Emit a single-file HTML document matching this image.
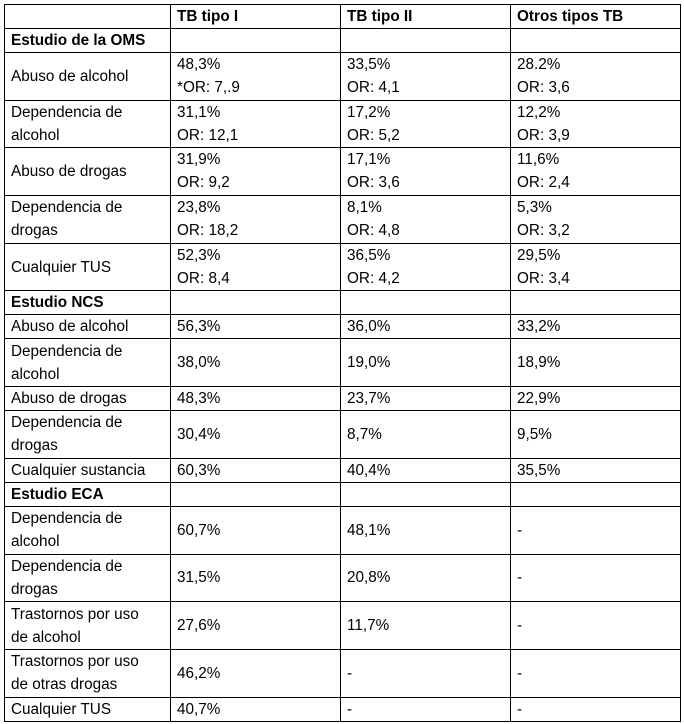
<!DOCTYPE html>
<html><head><meta charset="utf-8"><style>
html,body{margin:0;padding:0;background:#fff;width:684px;height:724px;overflow:hidden}
table{position:absolute;left:4px;top:4px;border-collapse:collapse;table-layout:fixed;font-family:"Liberation Sans",Arial,sans-serif;font-size:15.3px;color:#000}
td{border:1.5px solid #000;padding:0 0 0 6px;vertical-align:middle;line-height:23px;overflow:hidden;white-space:nowrap}
td.t{vertical-align:top}
.b{font-weight:bold}
tr.s{height:23.7px} tr.d{height:47.7px}
</style></head><body>
<table>
<colgroup><col style="width:166px"><col style="width:170px"><col style="width:170px"><col style="width:170px"></colgroup>
<tr class="s"><td></td><td class="b">TB tipo I</td><td class="b">TB tipo II</td><td class="b">Otros tipos TB</td></tr>
<tr class="s"><td class="b">Estudio de la OMS</td><td></td><td></td><td></td></tr>
<tr class="d"><td>Abuso de alcohol</td><td class="t">48,3%<br>*OR: 7,.9</td><td class="t">33,5%<br>OR: 4,1</td><td class="t">28.2%<br>OR: 3,6</td></tr>
<tr class="d"><td>Dependencia de<br>alcohol</td><td class="t">31,1%<br>OR: 12,1</td><td class="t">17,2%<br>OR: 5,2</td><td class="t">12,2%<br>OR: 3,9</td></tr>
<tr class="d"><td>Abuso de drogas</td><td class="t">31,9%<br>OR: 9,2</td><td class="t">17,1%<br>OR: 3,6</td><td class="t">11,6%<br>OR: 2,4</td></tr>
<tr class="d"><td>Dependencia de<br>drogas</td><td class="t">23,8%<br>OR: 18,2</td><td class="t">8,1%<br>OR: 4,8</td><td class="t">5,3%<br>OR: 3,2</td></tr>
<tr class="d"><td>Cualquier TUS</td><td class="t">52,3%<br>OR: 8,4</td><td class="t">36,5%<br>OR: 4,2</td><td class="t">29,5%<br>OR: 3,4</td></tr>
<tr class="s"><td class="b">Estudio NCS</td><td></td><td></td><td></td></tr>
<tr class="s"><td>Abuso de alcohol</td><td>56,3%</td><td>36,0%</td><td>33,2%</td></tr>
<tr class="d"><td>Dependencia de<br>alcohol</td><td>38,0%</td><td>19,0%</td><td>18,9%</td></tr>
<tr class="s"><td>Abuso de drogas</td><td>48,3%</td><td>23,7%</td><td>22,9%</td></tr>
<tr class="d"><td>Dependencia de<br>drogas</td><td>30,4%</td><td>8,7%</td><td>9,5%</td></tr>
<tr class="s"><td>Cualquier sustancia</td><td>60,3%</td><td>40,4%</td><td>35,5%</td></tr>
<tr class="s"><td class="b">Estudio ECA</td><td></td><td></td><td></td></tr>
<tr class="d"><td>Dependencia de<br>alcohol</td><td>60,7%</td><td>48,1%</td><td>-</td></tr>
<tr class="d"><td>Dependencia de<br>drogas</td><td>31,5%</td><td>20,8%</td><td>-</td></tr>
<tr class="d"><td>Trastornos por uso<br>de alcohol</td><td>27,6%</td><td>11,7%</td><td>-</td></tr>
<tr class="d"><td>Trastornos por uso<br>de otras drogas</td><td>46,2%</td><td>-</td><td>-</td></tr>
<tr class="s"><td>Cualquier TUS</td><td>40,7%</td><td>-</td><td>-</td></tr>
</table>
</body></html>
